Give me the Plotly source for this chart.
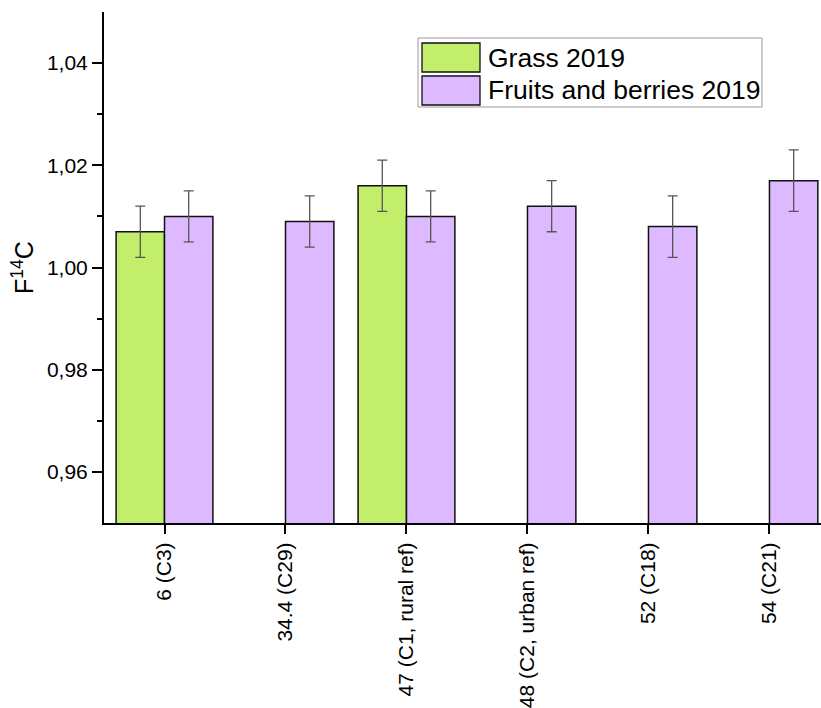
import plotly.graph_objects as go

# Sampling sites (distance label and site code)
sites = ["6 (C3)", "34.4 (C29)", "47 (C1, rural ref)", "48 (C2, urban ref)", "52 (C18)", "54 (C21)"]

# F14C of grass samples (None where no grass was collected)
grass_values = [1.007, None, 1.016, None, None, None]
grass_errors = [0.005, None, 0.005, None, None, None]

# F14C of fruit and berry samples
fruit_values = [1.010, 1.009, 1.010, 1.012, 1.008, 1.017]
fruit_errors = [0.005, 0.005, 0.005, 0.005, 0.006, 0.006]

series_names = ["Grass 2019", "Fruits and berries 2019"]
series_colors = ["#C2EE6C", "#DDB9FF"]

y_ticks = [0.96, 0.98, 1.00, 1.02, 1.04]
y_minor_ticks = [0.97, 0.99, 1.01, 1.03]

FONT = "Arial, Liberation Sans, sans-serif"
W, H = 821, 708
ML, MT, MB, MR = 104, 12, 185, 0

fig = go.Figure()
for name, color, vals, errs in [
    (series_names[0], series_colors[0], grass_values, grass_errors),
    (series_names[1], series_colors[1], fruit_values, fruit_errors),
]:
    fig.add_trace(go.Bar(
        x=list(range(len(sites))),
        y=vals,
        name=name,
        marker=dict(color=color, line=dict(color="#111111", width=1.5)),
        error_y=dict(type="data", array=errs, visible=True,
                     color="#555555", thickness=1.3, width=5),
        showlegend=False,
    ))

# Legend box drawn in pixel-derived paper coordinates
pw, ph = W - ML - MR, H - MT - MB


def px(x):
    return (x - ML) / pw


def py(y):
    return (H - MB - y) / ph


shapes = [dict(type="rect", xref="paper", yref="paper",
               x0=px(418), x1=px(762), y0=py(107), y1=py(38),
               line=dict(color="#999999", width=1), fillcolor="white", layer="above")]
annotations = []
for i, (name, color) in enumerate(zip(series_names, series_colors)):
    top = 43 + i * 33
    shapes.append(dict(type="rect", xref="paper", yref="paper",
                       x0=px(422), x1=px(480), y0=py(top + 29), y1=py(top),
                       line=dict(color="#111111", width=1.3), fillcolor=color, layer="above"))
    annotations.append(dict(xref="paper", yref="paper", x=px(486), y=py(top + 14.5),
                            text=name, showarrow=False, xanchor="left", yanchor="middle",
                            font=dict(family=FONT, size=26.5, color="black")))

fig.update_layout(
    width=W, height=H,
    margin=dict(l=ML, r=MR, t=MT, b=MB, pad=0),
    paper_bgcolor="white", plot_bgcolor="white",
    barmode="group", bargap=0.2, bargroupgap=0,
    separators=", ",
    font=dict(family=FONT, size=21, color="black"),
    shapes=shapes, annotations=annotations,
    xaxis=dict(
        range=[-0.5, 5.426], tickmode="array",
        tickvals=list(range(len(sites))), ticktext=sites,
        tickangle=-90, ticks="outside", ticklen=9, tickwidth=2, tickcolor="black",
        showline=True, linecolor="black", linewidth=2,
        showgrid=False, zeroline=False,
        tickfont=dict(family=FONT, size=21),
    ),
    yaxis=dict(
        range=[0.95, 1.05], tickmode="array", tickvals=y_ticks,
        tickformat=".2f", ticks="outside", ticklen=10, tickwidth=2, tickcolor="black",
        minor=dict(tickmode="array", tickvals=y_minor_ticks, ticks="outside", ticklen=5,
                   tickwidth=2, tickcolor="black", showgrid=False),
        showline=True, linecolor="black", linewidth=2,
        showgrid=False, zeroline=False,
        tickfont=dict(family=FONT, size=21),
        title=dict(text="F<sup>14</sup>C", font=dict(family=FONT, size=25), standoff=6),
    ),
)

fig.write_html("out.html")
